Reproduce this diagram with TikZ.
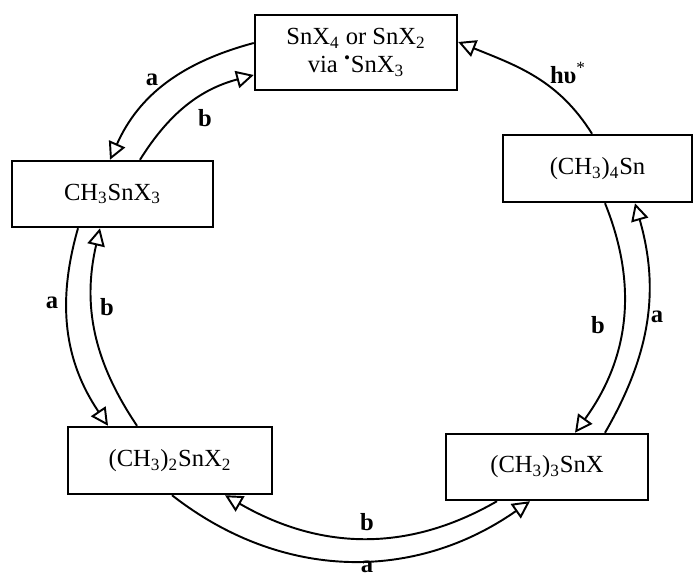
\documentclass[tikz,border=0pt]{standalone}
\usepackage{fontspec}
\setmainfont{Liberation Serif}
\usepackage{tikz}
\usetikzlibrary{arrows.meta}

\begin{document}
\begin{tikzpicture}[x=0.02cm,y=0.02cm,
    species/.style={draw,line width=1.4pt,inner sep=0pt,font=\fontsize{14}{16}\selectfont,align=center},
    route/.style={line width=1.1pt,-{Triangle[open,length=3.5mm,width=3.5mm,line width=1.1pt]}},
    lbl/.style={font=\fontsize{14}{16}\selectfont\bfseries}]
          \useasboundingbox (0,0) rectangle (694,578);

          % the five tin species
          \node[species,minimum width=4.04cm,minimum height=1.5cm] (top) at (356,525.5)
            {SnX\textsubscript{4} or SnX\textsubscript{2}\\via \textsuperscript{\textbullet}SnX\textsubscript{3}};
          \node[species,minimum width=3.78cm,minimum height=1.34cm] (rgt) at (597.5,409.5) {(CH\textsubscript{3})\textsubscript{4}Sn};
          \node[species,minimum width=4.02cm,minimum height=1.32cm] (lft) at (112.5,384) {CH\textsubscript{3}SnX\textsubscript{3}};
          \node[species,minimum width=4.08cm,minimum height=1.34cm] (blft) at (170,117.5) {(CH\textsubscript{3})\textsubscript{2}SnX\textsubscript{2}};
          \node[species,minimum width=4.04cm,minimum height=1.32cm] (brgt) at (547,111) {(CH\textsubscript{3})\textsubscript{3}SnX};

          % top <-> left
          \draw[route] ([yshift=0.19cm]top.west) to[out=195,in=66] ([xshift=-0.05cm]lft.north);
          \draw[route] ([xshift=0.55cm]lft.north) to[out=58,in=195] ([yshift=-0.45cm]top.west);
          \node[lbl] (a1) at (152,498) {a};
          \node[lbl] (b1) at (205,460) {b};

          % left <-> bottom left
          \draw[route] ([xshift=-0.69cm]lft.south) to[out=254,in=124] ([xshift=-1.24cm]blft.north);
          \draw[route] ([xshift=-0.66cm]blft.north) to[out=124,in=257] ([xshift=-0.25cm]lft.south);
          \node[lbl] (a2) at (52,275) {a};
          \node[lbl] (b2) at (107,271) {b};

          % bottom right <-> bottom left
          \draw[route] ([xshift=-1cm]brgt.south) to[out=210,in=-30] ([xshift=1.1cm]blft.south);
          \draw[route] ([xshift=0.04cm]blft.south) to[out=-38,in=215] ([xshift=-0.34cm]brgt.south);
          \node[lbl] (b3) at (367,56) {b};
          \node[lbl] (a3) at (367,11) {a};

          % top right <-> bottom right
          \draw[route] ([xshift=0.15cm]rgt.south) to[out=-68,in=54] ([xshift=0.56cm]brgt.north);
          \draw[route] ([xshift=1.16cm]brgt.north) to[out=60,in=-74] ([xshift=0.75cm]rgt.south);
          \node[lbl] (b4) at (598,253) {b};
          \node[lbl] (a4) at (657,261) {a};

          % light step
          \draw[route] ([xshift=-0.11cm]rgt.north) to[out=122,in=-22] ([yshift=0.21cm]top.east);
          \node[lbl] (hv) at (568,505) {hυ\textsuperscript{\mdseries *}};
        \end{tikzpicture}
\end{document}
